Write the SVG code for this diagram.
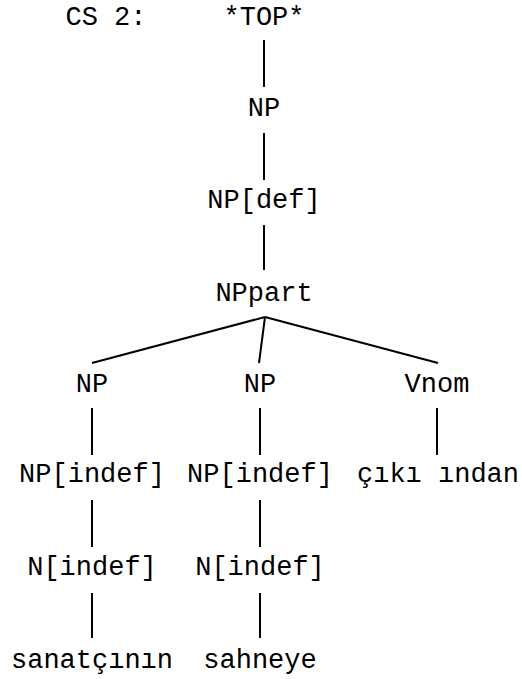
<svg xmlns="http://www.w3.org/2000/svg" width="522" height="679" viewBox="0 0 522 679">
<style>
text{font-family:"Courier New",Courier,"Nimbus Mono PS","FreeMono","Liberation Mono",monospace;font-size:27px;fill:#000;text-anchor:middle}
line{stroke:#000;stroke-width:2;stroke-linecap:butt}
</style>
<rect width="522" height="679" fill="#fff"/>
<text x="106" y="25">CS 2:</text>
<g id="connectors">
<line x1="264" y1="40" x2="264" y2="87"/>
<line x1="264" y1="133" x2="264" y2="180"/>
<line x1="264" y1="225" x2="264" y2="270"/>
<line x1="265" y1="317" x2="92" y2="363"/>
<line x1="265" y1="317" x2="259" y2="363"/>
<line x1="265" y1="317" x2="438" y2="363"/>
<line x1="92" y1="408" x2="92" y2="455"/>
<line x1="260" y1="408" x2="260" y2="455"/>
<line x1="437" y1="408" x2="437" y2="455"/>
<line x1="92" y1="500" x2="92" y2="547"/>
<line x1="260" y1="500" x2="260" y2="547"/>
<line x1="92" y1="593" x2="92" y2="638"/>
<line x1="260" y1="593" x2="260" y2="638"/>
</g>
<g id="top"><text x="264" y="25">*TOP*</text></g>
<g id="np"><text x="264" y="116">NP</text></g>
<g id="npdef"><text x="264" y="208">NP[def]</text></g>
<g id="nppart"><text x="264" y="301">NPpart</text></g>
<g id="np1"><text x="92" y="392">NP</text></g>
<g id="np2"><text x="260" y="392">NP</text></g>
<g id="vnom"><text x="437" y="392">Vnom</text></g>
<g id="npindef1"><text x="92" y="482">NP[indef]</text></g>
<g id="npindef2"><text x="260" y="482">NP[indef]</text></g>
<g id="cikisindan"><text x="438" y="482">çıkı ından</text></g>
<g id="nindef1"><text x="92" y="575">N[indef]</text></g>
<g id="nindef2"><text x="260" y="575">N[indef]</text></g>
<g id="sanatcinin"><text x="92" y="668">sanatçının</text></g>
<g id="sahneye"><text x="260" y="668">sahneye</text></g>
</svg>
